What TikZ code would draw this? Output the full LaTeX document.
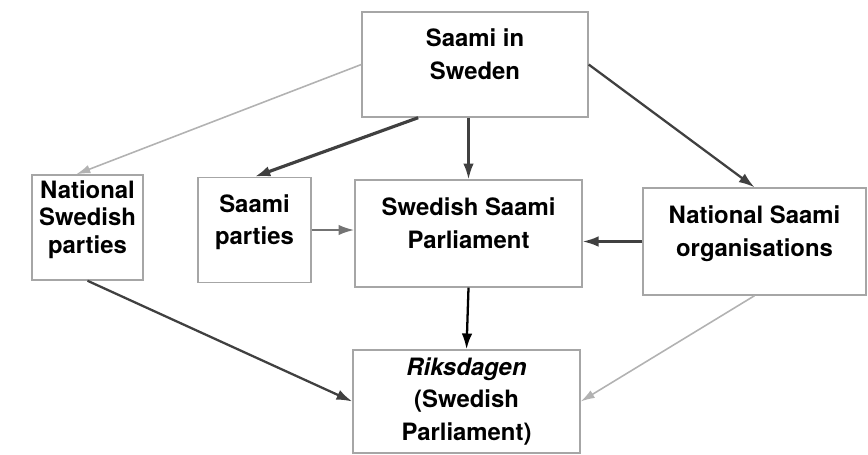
\documentclass[tikz,border=0pt]{standalone}
\usepackage{fontspec}
\setmainfont{TeX Gyre Heros}
\usetikzlibrary{arrows.meta,positioning,calc}

\begin{document}
\begin{tikzpicture}[x=0.02cm,y=-0.02cm, box/.style={draw=black!35,line width=0.8pt,align=center,inner xsep=2pt,font=\bfseries\fontsize{13.6}{18.5}\selectfont,minimum height=2.1cm,text depth=12pt}, dark/.style={-{Latex[length=9pt,width=6pt]},line width=1.3pt,black!75}, light/.style={-{Latex[length=8pt,width=5pt]},line width=0.9pt,black!30}]
\useasboundingbox (0,0) rectangle (868,454);
\node[box,minimum width=4.52cm] (sweden) at (475,64.5) {Saami in\\Sweden};
\node[box,minimum width=2.22cm,font=\bfseries\fontsize{13.6}{15.5}\selectfont] (nsp) at (87.5,227.5) {National\\Swedish\\parties};
\node[box,minimum width=2.26cm] (sp) at (254.5,230) {Saami\\parties};
\node[box,minimum width=4.54cm,minimum height=2.14cm] (ssp) at (468.5,233.5) {Swedish Saami\\Parliament};
\node[box,minimum width=4.46cm,minimum height=2.14cm] (nso) at (754.5,241.5) {National Saami\\organisations};
\node[box,minimum width=4.54cm,minimum height=2.06cm,text depth=3pt] (riks) at (466.5,401.5) {\textit{Riksdagen}\\(Swedish\\Parliament)};
\draw[light] (sweden.west) -- ($(nsp.north west)!0.4!(nsp.north east)$);
\draw[dark,line width=1.8pt] ($(sweden.south west)!0.25!(sweden.south east)$) -- (sp.north);
\draw[dark] (ssp.north |- sweden.south) -- (ssp.north);
\draw[dark] (sweden.east) -- (nso.north);
\draw[dark,black!55] (sp.east) -- (ssp.west |- sp.east);
\draw[dark] (nso.west) -- (nso.west -| ssp.east);
\draw[dark,black] (ssp.south) -- (riks.north);
\draw[dark] (nsp.south) -- (riks.west);
\draw[light] (nso.south) -- (riks.east);
\end{tikzpicture}
\end{document}
